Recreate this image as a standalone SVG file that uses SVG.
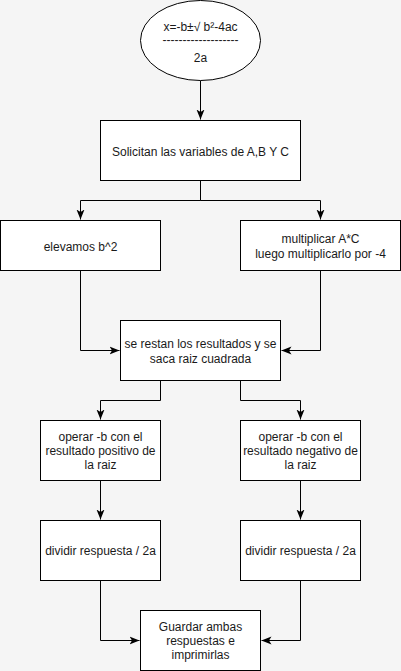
<svg xmlns="http://www.w3.org/2000/svg" width="401" height="671" viewBox="0 0 401 671">
<style>
.n{fill:#ffffff;stroke:#000000;stroke-width:1}
.t{font-family:"Liberation Sans",Arial,sans-serif;font-size:12px;fill:#1a1a1a;text-anchor:middle}
.c{fill:none;stroke:#000000;stroke-width:1}
</style>
<defs>
<marker id="ar" viewBox="0 0 10 10" refX="10" refY="5" markerWidth="10" markerHeight="10" markerUnits="userSpaceOnUse" orient="auto">
<path d="M0,1 L10,5 L0,9 L2.5,5 Z" fill="#000"/>
</marker>
</defs>
<rect width="401" height="671" fill="#f5f5f5"/>
<g id="connectors">
<path class="c" d="M200.5,80.5 V119.5" marker-end="url(#ar)"/>
<path class="c" d="M200.5,180.5 V200.5 H80.5 V219.5" marker-end="url(#ar)"/>
<path class="c" d="M200.5,180.5 V200.5 H320.5 V219.5" marker-end="url(#ar)"/>
<path class="c" d="M80.5,270.5 V350.5 H119.5" marker-end="url(#ar)"/>
<path class="c" d="M320.5,270.5 V350.5 H281.5" marker-end="url(#ar)"/>
<path class="c" d="M160.5,380.5 V400.5 H100.5 V419.5" marker-end="url(#ar)"/>
<path class="c" d="M240.5,380.5 V400.5 H300.5 V419.5" marker-end="url(#ar)"/>
<path class="c" d="M100.5,480.5 V519.5" marker-end="url(#ar)"/>
<path class="c" d="M300.5,480.5 V519.5" marker-end="url(#ar)"/>
<path class="c" d="M100.5,580.5 V640.5 H139.5" marker-end="url(#ar)"/>
<path class="c" d="M300.5,580.5 V640.5 H261.5" marker-end="url(#ar)"/>
</g>
<g id="start">
<ellipse class="n" cx="200.5" cy="40.5" rx="60" ry="40"/>
<text class="t" x="200.5" y="31">x=-b±√ b²-4ac</text>
<text class="t" x="200.5" y="44">-------------------</text>
<text class="t" x="200.5" y="62">2a</text>
</g>
<g id="solicitan">
<rect class="n" x="100.5" y="120.5" width="200" height="60"/>
<text class="t" x="200.5" y="156">Solicitan las variables de A,B Y C</text>
</g>
<g id="elevamos">
<rect class="n" x="0.5" y="220.5" width="160" height="50"/>
<text class="t" x="80.5" y="251">elevamos b^2</text>
</g>
<g id="multiplicar">
<rect class="n" x="240.5" y="220.5" width="160" height="50"/>
<text class="t" x="320.5" y="242.5">multiplicar A*C</text>
<text class="t" x="320.5" y="257.5">luego multiplicarlo por -4</text>
</g>
<g id="restan">
<rect class="n" x="120.5" y="320.5" width="160" height="60"/>
<text class="t" x="200.5" y="347.5">se restan los resultados y se</text>
<text class="t" x="200.5" y="362.5">saca raiz cuadrada</text>
</g>
<g id="positivo">
<rect class="n" x="40.5" y="420.5" width="120" height="60"/>
<text class="t" x="100.5" y="441">operar -b con el</text>
<text class="t" x="100.5" y="455">resultado positivo de</text>
<text class="t" x="100.5" y="469">la raiz</text>
</g>
<g id="negativo">
<rect class="n" x="240.5" y="420.5" width="120" height="60"/>
<text class="t" x="300.5" y="441">operar -b con el</text>
<text class="t" x="300.5" y="455">resultado negativo de</text>
<text class="t" x="300.5" y="469">la raiz</text>
</g>
<g id="dividir1">
<rect class="n" x="40.5" y="520.5" width="120" height="60"/>
<text class="t" x="100.5" y="555">dividir respuesta / 2a</text>
</g>
<g id="dividir2">
<rect class="n" x="240.5" y="520.5" width="120" height="60"/>
<text class="t" x="300.5" y="555">dividir respuesta / 2a</text>
</g>
<g id="guardar">
<rect class="n" x="140.5" y="610.5" width="120" height="60"/>
<text class="t" x="200.5" y="631">Guardar ambas</text>
<text class="t" x="200.5" y="645">respuestas e</text>
<text class="t" x="200.5" y="659">imprimirlas</text>
</g>
</svg>
